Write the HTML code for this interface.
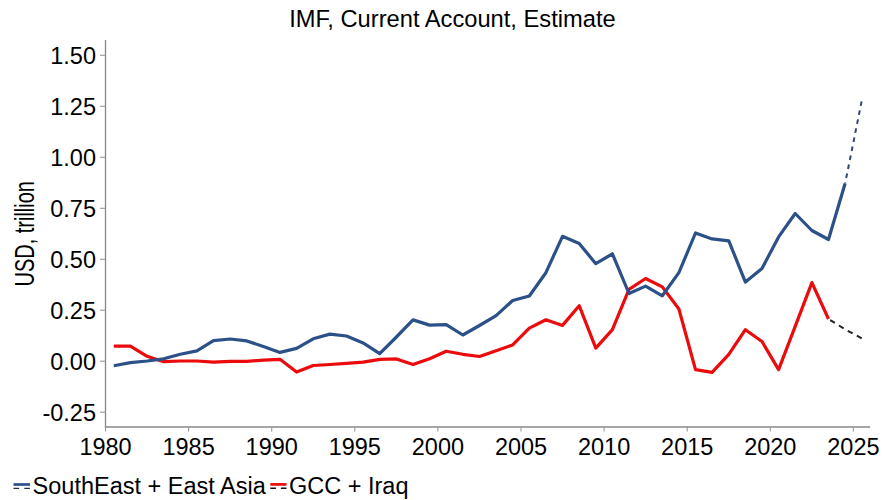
<!DOCTYPE html>
<html><head><meta charset="utf-8"><style>
html,body{margin:0;padding:0;background:#fff;}
svg{display:block;}
text{font-family:"Liberation Sans",sans-serif;font-size:23.5px;fill:#000;}
.ax{stroke:#888;stroke-width:1.3;}
.tk{stroke:#999;stroke-width:1.1;}
</style></head><body>
<svg width="889" height="500" viewBox="0 0 889 500">
<rect width="889" height="500" fill="#fff"/>
<text x="452.4" y="27.3" text-anchor="middle" style="font-size:23.7px">IMF, Current Account, Estimate</text>
<line x1="105.5" y1="40" x2="105.5" y2="427.3" class="ax"/>
<line x1="104.9" y1="427" x2="870" y2="427" class="ax"/>
<line x1="100" y1="55.3" x2="105.5" y2="55.3" class="tk"/><text transform="translate(96,63.7) scale(1,1.03)" text-anchor="end">1.50</text>
<line x1="100" y1="106.3" x2="105.5" y2="106.3" class="tk"/><text transform="translate(96,114.7) scale(1,1.03)" text-anchor="end">1.25</text>
<line x1="100" y1="157.3" x2="105.5" y2="157.3" class="tk"/><text transform="translate(96,165.7) scale(1,1.03)" text-anchor="end">1.00</text>
<line x1="100" y1="208.3" x2="105.5" y2="208.3" class="tk"/><text transform="translate(96,216.7) scale(1,1.03)" text-anchor="end">0.75</text>
<line x1="100" y1="259.3" x2="105.5" y2="259.3" class="tk"/><text transform="translate(96,267.7) scale(1,1.03)" text-anchor="end">0.50</text>
<line x1="100" y1="310.2" x2="105.5" y2="310.2" class="tk"/><text transform="translate(96,318.6) scale(1,1.03)" text-anchor="end">0.25</text>
<line x1="100" y1="361.2" x2="105.5" y2="361.2" class="tk"/><text transform="translate(96,369.6) scale(1,1.03)" text-anchor="end">0.00</text>
<line x1="100" y1="412.2" x2="105.5" y2="412.2" class="tk"/><text transform="translate(96,420.6) scale(1,1.03)" text-anchor="end">-0.25</text>
<line x1="105.5" y1="427" x2="105.5" y2="431.5" class="tk"/><text transform="translate(105.5,455.2) scale(1,1.03)" text-anchor="middle">1980</text>
<line x1="188.6" y1="427" x2="188.6" y2="431.5" class="tk"/><text transform="translate(188.6,455.2) scale(1,1.03)" text-anchor="middle">1985</text>
<line x1="271.7" y1="427" x2="271.7" y2="431.5" class="tk"/><text transform="translate(271.7,455.2) scale(1,1.03)" text-anchor="middle">1990</text>
<line x1="354.8" y1="427" x2="354.8" y2="431.5" class="tk"/><text transform="translate(354.8,455.2) scale(1,1.03)" text-anchor="middle">1995</text>
<line x1="437.9" y1="427" x2="437.9" y2="431.5" class="tk"/><text transform="translate(437.9,455.2) scale(1,1.03)" text-anchor="middle">2000</text>
<line x1="521.0" y1="427" x2="521.0" y2="431.5" class="tk"/><text transform="translate(521.0,455.2) scale(1,1.03)" text-anchor="middle">2005</text>
<line x1="604.1" y1="427" x2="604.1" y2="431.5" class="tk"/><text transform="translate(604.1,455.2) scale(1,1.03)" text-anchor="middle">2010</text>
<line x1="687.2" y1="427" x2="687.2" y2="431.5" class="tk"/><text transform="translate(687.2,455.2) scale(1,1.03)" text-anchor="middle">2015</text>
<line x1="770.3" y1="427" x2="770.3" y2="431.5" class="tk"/><text transform="translate(770.3,455.2) scale(1,1.03)" text-anchor="middle">2020</text>
<line x1="853.4" y1="427" x2="853.4" y2="431.5" class="tk"/><text transform="translate(853.4,455.2) scale(1,1.03)" text-anchor="middle">2025</text>
<text transform="translate(34.1,233.8) rotate(-90) scale(0.714,1)" x="0" y="0" text-anchor="middle" style="font-size:28px">USD, trillion</text>
<polyline points="113.8,346.1 130.4,346.1 147.1,356.3 163.7,361.7 180.3,361.0 196.9,361.0 213.5,362.1 230.2,361.4 246.8,361.4 263.4,360.1 280.0,359.3 296.6,372.1 313.2,365.5 329.9,364.5 346.5,363.4 363.1,362.1 379.7,359.4 396.4,358.9 413.0,364.5 429.6,358.8 446.2,351.2 462.8,354.3 479.5,356.5 496.1,350.7 512.7,344.9 529.3,328.1 545.9,319.8 562.5,325.4 579.2,305.7 595.8,348.1 612.4,329.6 629.0,289.3 645.6,278.5 662.3,286.9 678.9,309.0 695.5,369.6 712.1,372.3 728.8,354.3 745.4,329.7 762.0,341.5 778.6,369.6 795.2,326.4 811.9,282.6 828.5,319.0" fill="none" stroke="#EB0A0C" stroke-width="3.2" stroke-linejoin="round"/>
<polyline points="828.5,319.0 845.1,329.3 861.7,338.3" fill="none" stroke="#222" stroke-width="2" stroke-dasharray="5.5,4.8" stroke-dashoffset="-2"/>
<polyline points="113.8,365.7 130.4,362.6 147.1,361.0 163.7,358.8 180.3,354.2 196.9,350.9 213.5,340.6 230.2,339.0 246.8,340.9 263.4,346.5 280.0,352.4 296.6,348.4 313.2,338.8 329.9,334.1 346.5,336.0 363.1,342.9 379.7,353.6 396.4,337.0 413.0,319.9 429.6,325.1 446.2,324.6 462.8,335.0 479.5,325.5 496.1,315.6 512.7,300.5 529.3,296.0 545.9,272.7 562.5,236.3 579.2,243.5 595.8,263.7 612.4,253.8 629.0,293.5 645.6,286.1 662.3,295.8 678.9,272.6 695.5,233.0 712.1,238.9 728.8,240.8 745.4,282.1 762.0,268.5 778.6,236.9 795.2,213.5 811.9,230.5 828.5,239.5 845.1,183.5" fill="none" stroke="#2C5088" stroke-width="3.2" stroke-linejoin="round"/>
<polyline points="845.1,183.5 861.7,100.9" fill="none" stroke="#34466e" stroke-width="2" stroke-dasharray="4.6,4.6" stroke-dashoffset="3.6"/>
<line x1="13.5" y1="484.5" x2="30" y2="484.5" stroke="#2C5088" stroke-width="2.7"/>
<line x1="13.5" y1="488.4" x2="30" y2="488.4" stroke="#1e2e4e" stroke-width="1.4" stroke-dasharray="5.6,5.2"/>
<text x="32.6" y="494.1">SouthEast + East Asia</text>
<line x1="270.3" y1="484.4" x2="286.5" y2="484.4" stroke="#EB0A0C" stroke-width="2.7"/>
<line x1="270.3" y1="488.2" x2="286.5" y2="488.2" stroke="#111" stroke-width="1.4" stroke-dasharray="5.6,5"/>
<text x="289" y="494.1">GCC + Iraq</text>
</svg>
</body></html>
